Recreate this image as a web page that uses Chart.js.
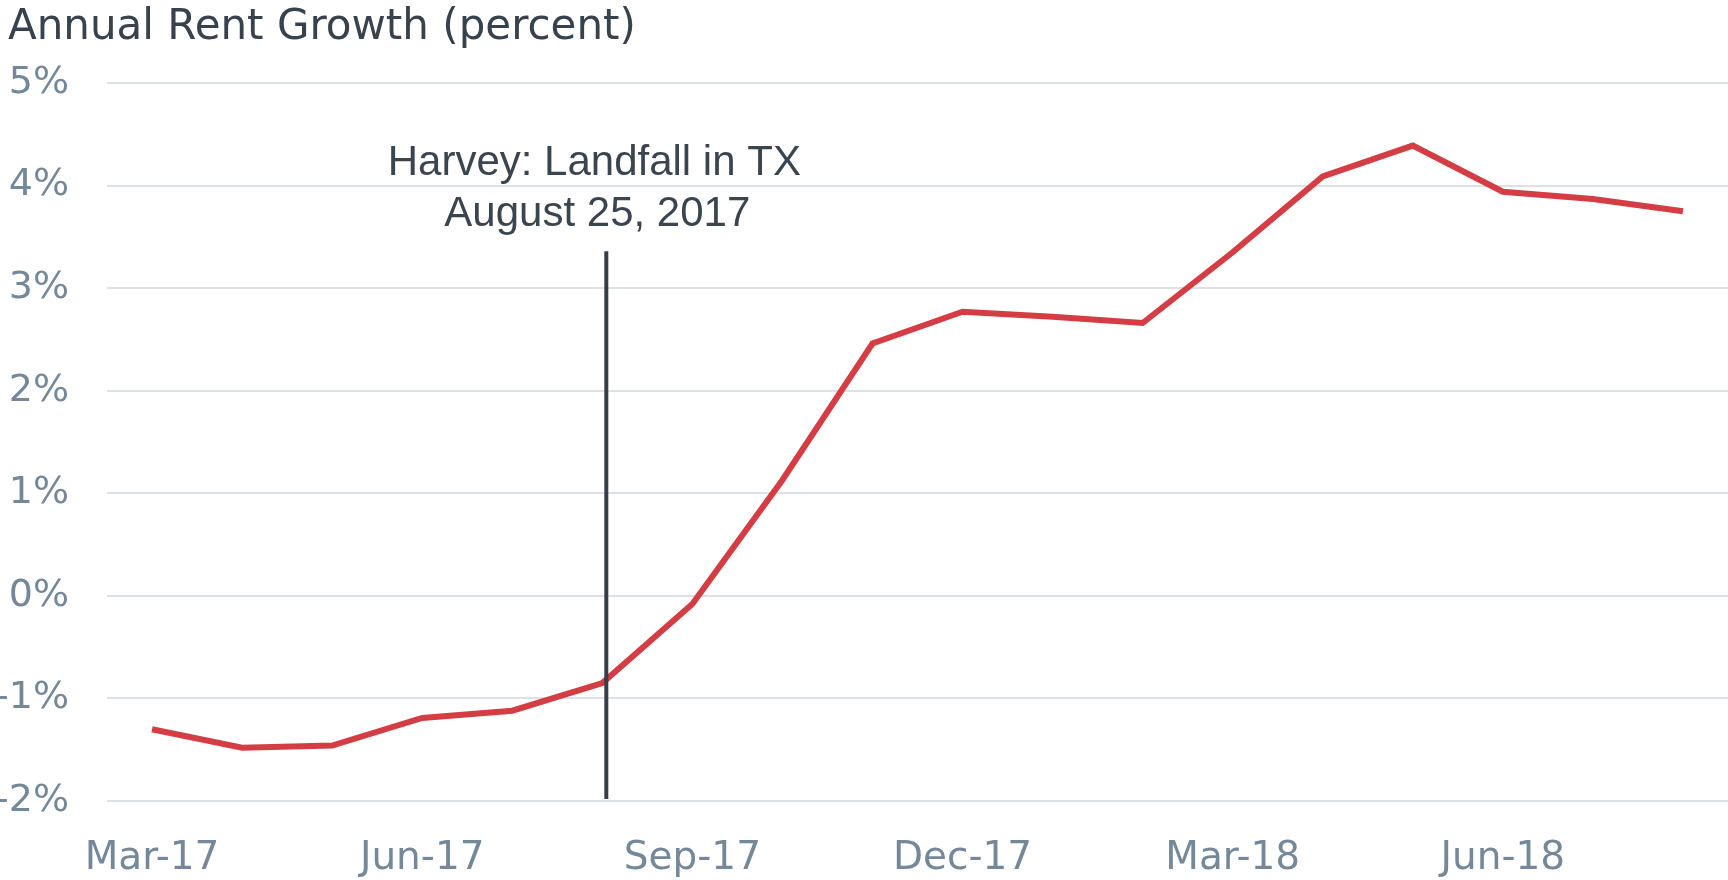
<!DOCTYPE html>
<html>
<head>
<meta charset="utf-8">
<script src="https://cdn.jsdelivr.net/npm/chart.js@4.4.1/dist/chart.umd.min.js"></script>
<style>
html, body { margin: 0; padding: 0; background: #fff; }
</style>
</head>
<body>
<canvas id="rentChart" width="1728" height="880"></canvas>
<script>
// monthly observations, Mar-17 .. Aug-18
var months = ['Mar-17', 'Apr-17', 'May-17', 'Jun-17', 'Jul-17', 'Aug-17', 'Sep-17', 'Oct-17', 'Nov-17',
	'Dec-17', 'Jan-18', 'Feb-18', 'Mar-18', 'Apr-18', 'May-18', 'Jun-18', 'Jul-18', 'Aug-18'];
var rentGrowth = [-1.30, -1.48, -1.46, -1.19, -1.12, -0.85, -0.08, 1.13, 2.46,
	2.77, 2.72, 2.66, 3.35, 4.09, 4.39, 3.94, 3.87, 3.75];
var tickMonths = ['Mar-17', 'Jun-17', 'Sep-17', 'Dec-17', 'Mar-18', 'Jun-18'];

var chartTitle = 'Annual Rent Growth (percent)';
var eventMonth = 'Aug-17';
var eventLines = ['Harvey: Landfall in TX', 'August 25, 2017'];
var eventLineTop = 3.36;

var gothic = '"DejaVu Sans", sans-serif';

// title in the top left corner
var titlePlugin = {
	id: 'titleText',
	afterDraw: function(chart) {
		var ctx = chart.ctx;
		ctx.save();
		ctx.font = '42px ' + gothic;
		ctx.fillStyle = '#37424d';
		ctx.textAlign = 'left';
		ctx.textBaseline = 'alphabetic';
		ctx.fillText(chartTitle, 8, 39);
		ctx.restore();
	}
};

// Harvey marker line + label
var eventPlugin = {
	id: 'eventMarker',
	afterDatasetsDraw: function(chart) {
		var ctx = chart.ctx;
		var x = chart.scales.x.getPixelForValue(months.indexOf(eventMonth)) + 4;
		var top = chart.scales.y.getPixelForValue(eventLineTop);
		ctx.save();
		ctx.strokeStyle = '#343f49';
		ctx.lineWidth = 4;
		ctx.beginPath();
		ctx.moveTo(x, top);
		ctx.lineTo(x, chart.chartArea.bottom - 2);
		ctx.stroke();

		ctx.font = '42px "Liberation Sans", Arial, sans-serif';
		ctx.fillStyle = '#3a4550';
		ctx.textAlign = 'center';
		ctx.textBaseline = 'alphabetic';
		ctx.fillText(eventLines[0], x - 12, top - 76);
		ctx.fillText(eventLines[1], x - 9, top - 25);
		ctx.restore();
	}
};

new Chart(document.getElementById('rentChart'), {
	type: 'line',
	data: {
		labels: months,
		datasets: [
			{
				label: 'Annual Rent Growth',
				data: rentGrowth,
				borderColor: '#d53d45',
				borderWidth: 6,
				pointRadius: 0,
				tension: 0,
				fill: false
			}
		]
	},
	options: {
		responsive: false,
		animation: false,
		layout: {
			padding: { top: 83, left: 0, right: 0, bottom: 0 }
		},
		plugins: {
			legend: { display: false },
			tooltip: { enabled: false }
		},
		scales: {
			x: {
				offset: true,
				grid: { display: false },
				border: { display: false },
				ticks: {
					autoSkip: false,
					maxRotation: 0,
					color: '#74889a',
					font: { family: gothic, size: 39 },
					padding: 26,
					callback: function(v, i) {
						var lbl = months[i];
						return tickMonths.indexOf(lbl) >= 0 ? lbl : '';
					}
				},
				afterFit: function(scale) { scale.height = 79; }
			},
			y: {
				min: -2,
				max: 5,
				grid: { color: '#dce1e6', lineWidth: 2, drawTicks: false },
				border: { display: false },
				ticks: {
					stepSize: 1,
					color: '#74889a',
					font: { family: gothic, size: 38 },
					padding: 38,
					callback: function(v) { return v + '%'; }
				},
				afterFit: function(scale) { scale.width = 107; }
			}
		}
	},
	plugins: [titlePlugin, eventPlugin]
});
</script>
</body>
</html>
